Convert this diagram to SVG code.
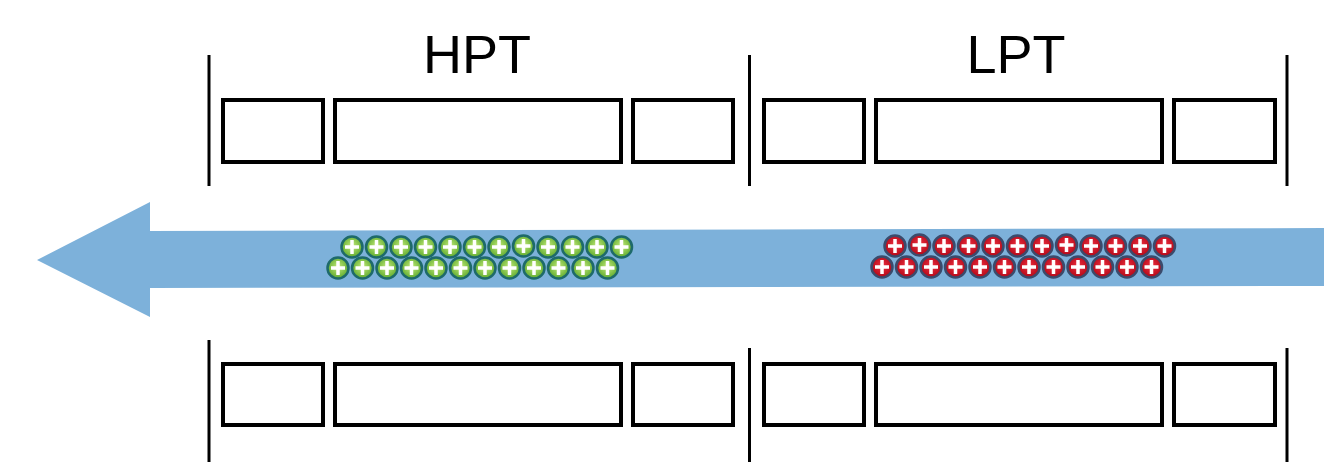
<svg xmlns="http://www.w3.org/2000/svg" xmlns:xlink="http://www.w3.org/1999/xlink" width="1324" height="462" viewBox="0 0 1324 462">
<style>
.box{fill:#fff;stroke:#000;stroke-width:4}
.div{stroke:#000;stroke-width:3;fill:none}
.lbl{font-family:"Liberation Sans",Arial,sans-serif;font-size:54px;fill:#000;text-anchor:middle}
.plus{stroke:#fff;stroke-width:3.5;stroke-linecap:butt}
</style>
<defs>
<radialGradient id="gg" cx="50%" cy="45%" r="55%">
<stop offset="0" stop-color="#c4ea7a"/>
<stop offset="1" stop-color="#5daa2e"/>
</radialGradient>
<radialGradient id="rg" cx="50%" cy="45%" r="55%">
<stop offset="0" stop-color="#f03040"/>
<stop offset="1" stop-color="#b00818"/>
</radialGradient>
<g id="gion">
<circle r="10.5" fill="url(#gg)" stroke="#1e6a6a" stroke-width="2.5"/>
<path class="plus" d="M-7 0H7M0 -7V7"/>
</g>
<g id="rion">
<circle r="10.5" fill="url(#rg)" stroke="#3b4b6c" stroke-width="2.5"/>
<path class="plus" d="M-7 0H7M0 -7V7"/>
</g>
</defs>
<g id="flow-arrow">
<polygon points="37,260 150,202 150,231 1324,228 1324,286 150,288 150,317" fill="#7db1da"/>
</g>
<g id="labels">
<text class="lbl" x="477" y="73">HPT</text>
<text class="lbl" x="1016" y="73">LPT</text>
</g>
<g id="dividers">
<line class="div" x1="209" y1="55" x2="209" y2="186"/>
<line class="div" x1="749.5" y1="55" x2="749.5" y2="186"/>
<line class="div" x1="1287" y1="55" x2="1287" y2="186"/>
<line class="div" x1="209" y1="340" x2="209" y2="462"/>
<line class="div" x1="749.5" y1="348" x2="749.5" y2="462"/>
<line class="div" x1="1287" y1="348" x2="1287" y2="462"/>
</g>
<g id="top-row">
<rect class="box" x="223" y="100" width="100" height="62"/>
<rect class="box" x="335" y="100" width="286" height="62"/>
<rect class="box" x="633" y="100" width="100" height="62"/>
<rect class="box" x="764" y="100" width="100" height="62"/>
<rect class="box" x="876" y="100" width="286" height="62"/>
<rect class="box" x="1174" y="100" width="101" height="62"/>
</g>
<g id="bottom-row">
<rect class="box" x="223" y="364" width="100" height="61"/>
<rect class="box" x="335" y="364" width="286" height="61"/>
<rect class="box" x="633" y="364" width="100" height="61"/>
<rect class="box" x="764" y="364" width="100" height="61"/>
<rect class="box" x="876" y="364" width="286" height="61"/>
<rect class="box" x="1174" y="364" width="101" height="61"/>
</g>
<g id="green-ions">
<use xlink:href="#gion" x="352" y="247"/><use xlink:href="#gion" x="376.5" y="247"/><use xlink:href="#gion" x="401" y="247"/><use xlink:href="#gion" x="425.5" y="247"/><use xlink:href="#gion" x="450" y="247"/><use xlink:href="#gion" x="474.5" y="247"/><use xlink:href="#gion" x="499" y="247"/><use xlink:href="#gion" x="523.5" y="246"/><use xlink:href="#gion" x="548" y="247"/><use xlink:href="#gion" x="572.5" y="247"/><use xlink:href="#gion" x="597" y="247"/><use xlink:href="#gion" x="621.5" y="247"/>
<use xlink:href="#gion" x="338" y="268"/><use xlink:href="#gion" x="362.5" y="268"/><use xlink:href="#gion" x="387" y="268"/><use xlink:href="#gion" x="411.5" y="268"/><use xlink:href="#gion" x="436" y="268"/><use xlink:href="#gion" x="460.5" y="268"/><use xlink:href="#gion" x="485" y="268"/><use xlink:href="#gion" x="509.5" y="268"/><use xlink:href="#gion" x="534" y="268"/><use xlink:href="#gion" x="558.5" y="268"/><use xlink:href="#gion" x="583" y="268"/><use xlink:href="#gion" x="607.5" y="268"/>
</g>
<g id="red-ions">
<use xlink:href="#rion" x="895" y="246"/><use xlink:href="#rion" x="919.5" y="245"/><use xlink:href="#rion" x="944" y="246"/><use xlink:href="#rion" x="968.5" y="246"/><use xlink:href="#rion" x="993" y="246"/><use xlink:href="#rion" x="1017.5" y="246"/><use xlink:href="#rion" x="1042" y="246"/><use xlink:href="#rion" x="1066.5" y="245"/><use xlink:href="#rion" x="1091" y="246"/><use xlink:href="#rion" x="1115.5" y="246"/><use xlink:href="#rion" x="1140" y="246"/><use xlink:href="#rion" x="1164.5" y="246"/>
<use xlink:href="#rion" x="882" y="267"/><use xlink:href="#rion" x="906.5" y="267"/><use xlink:href="#rion" x="931" y="267"/><use xlink:href="#rion" x="955.5" y="267"/><use xlink:href="#rion" x="980" y="267"/><use xlink:href="#rion" x="1004.5" y="267"/><use xlink:href="#rion" x="1029" y="267"/><use xlink:href="#rion" x="1053.5" y="267"/><use xlink:href="#rion" x="1078" y="267"/><use xlink:href="#rion" x="1102.5" y="267"/><use xlink:href="#rion" x="1127" y="267"/><use xlink:href="#rion" x="1151.5" y="267"/>
</g>
</svg>
